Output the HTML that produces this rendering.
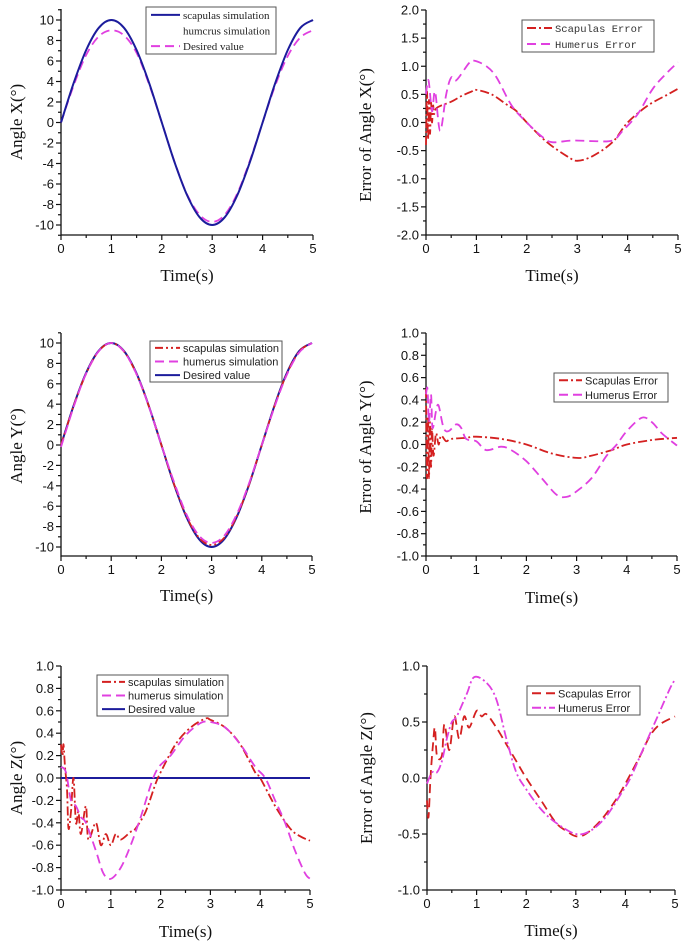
<!DOCTYPE html>
<html><head><meta charset="utf-8">
<style>
body{margin:0;background:#fff;width:685px;height:943px;overflow:hidden}
svg{display:block}
.tk{font-family:"Liberation Sans",sans-serif;font-size:13px;fill:#111}
.ttl{font-family:"Liberation Serif",serif;font-size:17px;fill:#111}
.lg{font-family:"Liberation Sans",sans-serif;font-size:11px;fill:#222}
.lgs{font-family:"Liberation Serif",serif;font-size:11px;fill:#222}
.lgm{font-family:"Liberation Mono",monospace;font-size:10.5px;fill:#333}
</style></head>
<body>
<svg id="fig" width="685" height="943" viewBox="0 0 685 943"></svg>
<script>
// ---- data (t, value) ----
const xTicks=[0,1,2,3,4,5];
const p1Ticks=[-10,-8,-6,-4,-2,0,2,4,6,8,10];
const p2Ticks=[-2.0,-1.5,-1.0,-0.5,0.0,0.5,1.0,1.5,2.0];
const p4Ticks=[-1.0,-0.8,-0.6,-0.4,-0.2,0.0,0.2,0.4,0.6,0.8,1.0];
const p6Ticks=[-1.0,-0.5,0.0,0.5,1.0];

const sineT=[0,0.25,0.5,0.75,1,1.25,1.5,1.75,2,2.25,2.5,2.75,3,3.25,3.5,3.75,4,4.25,4.5,4.75,5];
const p1Scap=[0,3.83,7.07,9.24,10,9.24,7.07,3.83,0,-3.83,-7.07,-9.24,-10,-9.24,-7.07,-3.83,0,3.83,7.07,9.24,10];
const p1Desired=[0,3.6,6.6,8.4,9,8.5,6.8,3.7,0,-3.8,-7.0,-9.0,-9.7,-9.0,-6.9,-3.7,0,3.6,6.5,8.3,9.0];

const p2ScapT=[0,0.02,0.04,0.06,0.08,0.1,0.12,0.14,0.16,0.2,0.3,0.5,0.7,0.9,1.0,1.3,1.6,1.8,2.0,2.4,2.8,3.0,3.3,3.7,4.0,4.4,4.8,5];
const p2Scap=[-0.4,0.55,-0.3,0.4,-0.2,0.35,0,0.3,0.15,0.25,0.3,0.37,0.47,0.55,0.58,0.5,0.32,0.2,0,-0.35,-0.6,-0.68,-0.6,-0.35,0,0.3,0.5,0.6];
const p2HumT=[0,0.05,0.12,0.18,0.28,0.4,0.5,0.6,0.85,0.95,1.2,1.4,1.7,2.0,2.3,2.5,2.9,3.3,3.7,3.9,4.2,4.5,4.8,5];
const p2Hum=[0.5,0.75,0.2,0.55,-0.15,0.5,0.8,0.75,1.05,1.1,1.0,0.8,0.3,0,-0.25,-0.35,-0.32,-0.33,-0.32,-0.15,0.15,0.6,0.9,1.07];

const p3Desired=[0,3.83,7.07,9.24,10,9.24,7.07,3.83,0,-3.83,-7.07,-9.24,-10,-9.24,-7.07,-3.83,0,3.83,7.07,9.24,10];
const p3Scap=[0,3.8,7.0,9.2,10,9.2,7.0,3.8,0,-3.8,-7.0,-9.1,-9.8,-9.1,-7.0,-3.8,0,3.8,7.0,9.2,10];
const p3Hum=[-0.2,3.7,7.0,9.2,10,9.2,7.0,3.8,0,-3.6,-6.8,-8.9,-9.6,-8.9,-6.8,-3.7,0,3.7,6.9,9.1,10];

const p4ScapT=[0,0.02,0.04,0.06,0.08,0.1,0.12,0.15,0.2,0.25,0.3,0.4,0.5,0.8,1,1.5,2,2.5,3,3.3,3.7,4,4.5,5];
const p4Scap=[0.5,-0.3,0.25,-0.3,0.2,-0.2,0.15,-0.1,0.1,0,0.08,0.03,0.05,0.06,0.07,0.05,0.0,-0.08,-0.12,-0.1,-0.05,0.0,0.04,0.06];
const p4HumT=[0,0.03,0.06,0.1,0.13,0.2,0.25,0.35,0.45,0.6,0.7,0.8,1,1.2,1.5,1.7,2,2.3,2.6,2.8,3,3.3,3.6,3.8,4,4.3,4.5,4.7,5];
const p4Hum=[0.45,0.5,0.2,0.45,0.15,0.3,0.35,0.15,0.12,0.18,0.15,0.05,0.03,-0.05,-0.02,-0.05,-0.15,-0.3,-0.45,-0.47,-0.42,-0.3,-0.1,0.0,0.12,0.24,0.2,0.1,-0.01];

const p5DesT=[0,5];
const p5Des=[0,0];
const p5ScapT=[0,0.03,0.05,0.08,0.12,0.15,0.2,0.25,0.3,0.35,0.4,0.5,0.55,0.7,0.8,0.9,1,1.1,1.2,1.4,1.5,1.7,1.9,2,2.3,2.6,2.9,3,3.3,3.6,3.9,4,4.3,4.6,4.8,5];
const p5Scap=[0.3,0.2,0.3,0.1,-0.1,-0.45,-0.3,0,-0.4,-0.3,-0.5,-0.25,-0.55,-0.4,-0.6,-0.5,-0.6,-0.5,-0.55,-0.48,-0.45,-0.3,-0.05,0.05,0.3,0.45,0.53,0.52,0.45,0.3,0.05,0,-0.25,-0.45,-0.52,-0.56];
const p5HumT=[0,0.1,0.2,0.3,0.4,0.5,0.7,0.85,1,1.2,1.4,1.6,1.9,2.2,2.5,2.8,3,3.3,3.6,3.9,4.1,4.3,4.5,4.7,4.9,5];
const p5Hum=[0.1,0.05,-0.2,-0.25,-0.35,-0.4,-0.65,-0.85,-0.9,-0.8,-0.6,-0.35,0.05,0.2,0.38,0.49,0.5,0.45,0.3,0.1,0,-0.2,-0.4,-0.65,-0.85,-0.9];

const p6ScapT=[0,0.03,0.07,0.12,0.16,0.2,0.3,0.35,0.45,0.55,0.65,0.75,0.85,1,1.1,1.2,1.4,1.6,1.8,2,2.3,2.6,2.8,3,3.2,3.5,3.8,4,4.3,4.5,4.7,5];
const p6Scap=[-0.2,-0.35,0,0.3,0.45,0.2,0.2,0.48,0.25,0.55,0.35,0.55,0.45,0.6,0.55,0.57,0.45,0.3,0.15,0,-0.2,-0.4,-0.47,-0.52,-0.5,-0.38,-0.2,-0.05,0.2,0.38,0.48,0.55];
const p6HumT=[0,0.1,0.2,0.3,0.4,0.5,0.6,0.8,0.95,1.2,1.4,1.6,1.8,2,2.3,2.6,3,3.3,3.6,3.9,4.1,4.3,4.5,4.7,4.9,5];
const p6Hum=[-0.05,0.05,0.05,0.15,0.35,0.5,0.55,0.75,0.9,0.85,0.7,0.35,0.05,-0.1,-0.28,-0.4,-0.5,-0.47,-0.35,-0.15,0,0.2,0.4,0.6,0.8,0.88];

const NS="http://www.w3.org/2000/svg";
const svg=document.getElementById('fig');
function mk(tag,parent){const e=document.createElementNS(NS,tag);parent.appendChild(e);return e;}
const BLUE="#1c1c9c",MAG="#e040e0",RED="#d42020";
const STY={solid:"",dash:"9,5",dashdot:"9,3,2,3",dashdotdot:"8,3,2,3,2,3"};

function smoothPath(pts){
  let d=`M${pts[0][0].toFixed(1)} ${pts[0][1].toFixed(1)}`;
  for(let i=0;i<pts.length-1;i++){
    const p0=pts[Math.max(0,i-1)],p1=pts[i],p2=pts[i+1],p3=pts[Math.min(pts.length-1,i+2)];
    const c1x=p1[0]+(p2[0]-p0[0])/6,c1y=p1[1]+(p2[1]-p0[1])/6;
    const c2x=p2[0]-(p3[0]-p1[0])/6,c2y=p2[1]-(p3[1]-p1[1])/6;
    d+=`C${c1x.toFixed(1)} ${c1y.toFixed(1)} ${c2x.toFixed(1)} ${c2y.toFixed(1)} ${p2[0].toFixed(1)} ${p2[1].toFixed(1)}`;
  }
  return d;
}

function panel(cfg){
  const g=mk('g',svg);
  
  
  const xs=t=>cfg.x0+(cfg.x1-cfg.x0)*t/5;
  const ys=v=>cfg.yTop+(cfg.yBot-cfg.yTop)*(cfg.vmax-v)/(cfg.vmax-cfg.vmin);
  const top=cfg.axTop,bot=cfg.axBot;
  const ax=mk('path',g);
  
  
  ax.setAttribute('d',`M${cfg.x0} ${top}V${bot}H${cfg.x1}`);
  ax.setAttribute('stroke','#111');ax.setAttribute('fill','none');ax.setAttribute('stroke-width','1.3');
  for(let i=0;i<=10;i++){
    const t=i/2,x=xs(t);
    const tk=mk('line',g);
    
    
    tk.setAttribute('x1',x);tk.setAttribute('x2',x);tk.setAttribute('y1',bot);tk.setAttribute('y2',bot+(i%2?3:5));
    tk.setAttribute('stroke','#111');tk.setAttribute('stroke-width','1.2');
  }
  xTicks.forEach(t=>{
    const tx=mk('text',g);
    
    
    tx.setAttribute('class','tk');tx.setAttribute('x',xs(t));tx.setAttribute('y',bot+18);tx.setAttribute('text-anchor','middle');
    tx.textContent=t;
  });
  const yt=cfg.ticks;
  const step=yt[1]-yt[0];
  const mins=[];
  for(let i=0;i<yt.length-1;i++)mins.push((yt[i]+yt[i+1])/2);
  mins.push(yt[yt.length-1]+step/2);mins.push(yt[0]-step/2);
  mins.forEach(v=>{const y=ys(v);if(y<top-0.5||y>bot+0.5)return;
    const tk=mk('line',g);
    
    
    tk.setAttribute('x1',cfg.x0);tk.setAttribute('x2',cfg.x0-3);tk.setAttribute('y1',y);tk.setAttribute('y2',y);
    tk.setAttribute('stroke','#111');tk.setAttribute('stroke-width','1.2');});
  yt.forEach(v=>{const y=ys(v);
    const tk=mk('line',g);
    
    
    tk.setAttribute('x1',cfg.x0);tk.setAttribute('x2',cfg.x0-5);tk.setAttribute('y1',y);tk.setAttribute('y2',y);
    tk.setAttribute('stroke','#111');tk.setAttribute('stroke-width','1.2');
    const tx=mk('text',g);
    
    
    tx.setAttribute('class','tk');tx.setAttribute('x',cfg.x0-7);tx.setAttribute('y',y+4.5);tx.setAttribute('text-anchor','end');
    tx.textContent=cfg.dec?v.toFixed(1):v;});
  const xt=mk('text',g);
  
  
  xt.setAttribute('class','ttl');xt.setAttribute('x',(cfg.x0+cfg.x1)/2);xt.setAttribute('y',cfg.xTitleY);xt.setAttribute('text-anchor','middle');
  xt.textContent='Time(s)';
  const ytl=mk('text',g);
  
  
  ytl.setAttribute('class','ttl');ytl.setAttribute('text-anchor','middle');
  ytl.setAttribute('transform',`translate(${cfg.yTitleX},${cfg.yTitleY}) rotate(-90)`);
  ytl.textContent=cfg.yTitle;
  cfg.series.forEach(s=>{
    const p=mk('path',g);
    
    
    p.setAttribute('d',smoothPath(s.t.map((t,i)=>[xs(t),ys(s.v[i])])));
    p.setAttribute('fill','none');p.setAttribute('stroke',s.c);p.setAttribute('stroke-width',s.w||1.8);
    p.setAttribute('stroke-linejoin','round');
    if(STY[s.s])p.setAttribute('stroke-dasharray',STY[s.s]);
  });
  const L=cfg.legend;
  const lg=mk('g',g);
  
  
  const r=mk('rect',lg);
  
  
  r.setAttribute('x',L.x);r.setAttribute('y',L.y);r.setAttribute('width',L.w);r.setAttribute('height',L.h);
  r.setAttribute('fill','#fff');r.setAttribute('stroke','#555');r.setAttribute('stroke-width','1');
  const rowH=L.h/L.items.length;
  L.items.forEach((it,i)=>{
    const cy=L.y+rowH*(i+0.5);
    if(it.c){
      const ln=mk('line',lg);
      
      
      ln.setAttribute('x1',L.x+5);ln.setAttribute('x2',L.x+L.sw);ln.setAttribute('y1',cy);ln.setAttribute('y2',cy);
      ln.setAttribute('stroke',it.c);ln.setAttribute('stroke-width','2');
      if(STY[it.s])ln.setAttribute('stroke-dasharray',STY[it.s]);
    }
    const tx=mk('text',lg);
    
    
    tx.setAttribute('class',L.cls);tx.setAttribute('x',L.x+L.sw+3);tx.setAttribute('y',cy+4);
    tx.textContent=it.label;
  });
}

panel({name:'chart-angle-x',x0:61,x1:313,yTop:20,yBot:225,vmax:10,vmin:-10,axTop:9,axBot:235,ticks:p1Ticks,dec:false,
  xTitleY:281,yTitleX:22,yTitleY:122,yTitle:'Angle X(°)',
  series:[{name:'desired-value-line',t:sineT,v:p1Desired,c:MAG,s:'dash'},{name:'scapulas-simulation-line',t:sineT,v:p1Scap,c:BLUE,s:'solid',w:2}],
  legend:{x:146,y:7,w:130,h:47,sw:34,cls:'lgs',items:[{label:'scapulas simulation',c:BLUE,s:'solid'},{label:'humcrus simulation'},{label:'Desired value',c:MAG,s:'dash'}]}});
panel({name:'chart-error-x',x0:426,x1:678,yTop:10,yBot:235,vmax:2,vmin:-2,axTop:10,axBot:235,ticks:p2Ticks,dec:true,
  xTitleY:281,yTitleX:371,yTitleY:135,yTitle:'Error of Angle X(°)',
  series:[{name:'scapulas-error-line',t:p2ScapT,v:p2Scap,c:RED,s:'dashdot'},{name:'humerus-error-line',t:p2HumT,v:p2Hum,c:MAG,s:'dash'}],
  legend:{x:522,y:20,w:132,h:32,sw:30,cls:'lgm',items:[{label:'Scapulas Error',c:RED,s:'dashdot'},{label:'Humerus Error',c:MAG,s:'dash'}]}});
panel({name:'chart-angle-y',x0:61,x1:312,yTop:343,yBot:547,vmax:10,vmin:-10,axTop:333,axBot:556,ticks:p1Ticks,dec:false,
  xTitleY:601,yTitleX:22,yTitleY:446,yTitle:'Angle Y(°)',
  series:[{name:'desired-value-line',t:sineT,v:p3Desired,c:BLUE,s:'solid',w:2},{name:'scapulas-simulation-line',t:sineT,v:p3Scap,c:RED,s:'dashdotdot'},{name:'humerus-simulation-line',t:sineT,v:p3Hum,c:MAG,s:'dash'}],
  legend:{x:150,y:341,w:132,h:41,sw:30,cls:'lg',items:[{label:'scapulas simulation',c:RED,s:'dashdotdot'},{label:'humerus simulation',c:MAG,s:'dash'},{label:'Desired value',c:BLUE,s:'solid'}]}});
panel({name:'chart-error-y',x0:426,x1:677,yTop:333,yBot:556,vmax:1,vmin:-1,axTop:333,axBot:556,ticks:p4Ticks,dec:true,
  xTitleY:603,yTitleX:371,yTitleY:447,yTitle:'Error of Angle Y(°)',
  series:[{name:'scapulas-error-line',t:p4ScapT,v:p4Scap,c:RED,s:'dashdot'},{name:'humerus-error-line',t:p4HumT,v:p4Hum,c:MAG,s:'dash'}],
  legend:{x:554,y:373,w:114,h:29,sw:28,cls:'lg',items:[{label:'Scapulas Error',c:RED,s:'dashdot'},{label:'Humerus Error',c:MAG,s:'dash'}]}});
panel({name:'chart-angle-z',x0:61,x1:310,yTop:666,yBot:890,vmax:1,vmin:-1,axTop:666,axBot:890,ticks:p4Ticks,dec:true,
  xTitleY:937,yTitleX:22,yTitleY:778,yTitle:'Angle Z(°)',
  series:[{name:'desired-value-line',t:p5DesT,v:p5Des,c:BLUE,s:'solid',w:2},{name:'scapulas-simulation-line',t:p5ScapT,v:p5Scap,c:RED,s:'dashdot'},{name:'humerus-simulation-line',t:p5HumT,v:p5Hum,c:MAG,s:'dash'}],
  legend:{x:97,y:675,w:131,h:41,sw:28,cls:'lg',items:[{label:'scapulas simulation',c:RED,s:'dashdot'},{label:'humerus simulation',c:MAG,s:'dash'},{label:'Desired value',c:BLUE,s:'solid'}]}});
panel({name:'chart-error-z',x0:427,x1:675,yTop:666,yBot:890,vmax:1,vmin:-1,axTop:666,axBot:890,ticks:p6Ticks,dec:true,
  xTitleY:936,yTitleX:372,yTitleY:778,yTitle:'Error of Angle Z(°)',
  series:[{name:'scapulas-error-line',t:p6ScapT,v:p6Scap,c:RED,s:'dash'},{name:'humerus-error-line',t:p6HumT,v:p6Hum,c:MAG,s:'dashdot'}],
  legend:{x:527,y:686,w:113,h:29,sw:28,cls:'lg',items:[{label:'Scapulas Error',c:RED,s:'dash'},{label:'Humerus Error',c:MAG,s:'dashdot'}]}});
</script>
</body></html>
